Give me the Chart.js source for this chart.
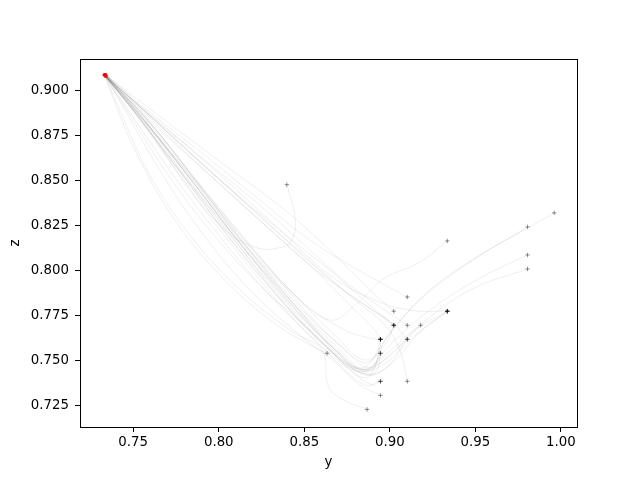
<!DOCTYPE html>
<html>
<head>
<meta charset="utf-8">
<script src="https://cdn.jsdelivr.net/npm/chart.js@4"></script>
<style>
  html, body { margin: 0; padding: 0; background: #fff; }
  #c { display: block; }
</style>
</head>
<body>
<canvas id="c" width="640" height="480"></canvas>
<script>
// axis ticks
const xTicks = [0.75, 0.80, 0.85, 0.90, 0.95, 1.00];
const yTicks = [0.725, 0.750, 0.775, 0.800, 0.825, 0.850, 0.875, 0.900];

// trajectories (y, z); first point = start, last point = end
const traj01 = [[0.7335,0.9085],[0.7539,0.8863],[0.7802,0.8529],[0.8094,0.8168],[0.8416,0.7779],[0.8679,0.7529],[0.8854,0.7402],[0.8930,0.7502],[0.8945,0.7617]];
const traj02 = [[0.7341,0.9091],[0.7568,0.8835],[0.7861,0.8474],[0.8182,0.8113],[0.8474,0.7835],[0.8737,0.7668],[0.8883,0.7624],[0.8945,0.7617]];
const traj03 = [[0.7329,0.9085],[0.7481,0.8863],[0.7685,0.8557],[0.7948,0.8224],[0.8240,0.7918],[0.8533,0.7668],[0.8766,0.7474],[0.8895,0.7446],[0.8945,0.7617]];
const traj04 = [[0.7347,0.9079],[0.7627,0.8807],[0.7948,0.8529],[0.8270,0.8252],[0.8562,0.8002],[0.8796,0.7779],[0.8912,0.7668],[0.8945,0.7617]];
const traj05 = [[0.7335,0.9091],[0.7598,0.8846],[0.7919,0.8557],[0.8240,0.8279],[0.8533,0.8029],[0.8766,0.7863],[0.8942,0.7752],[0.9023,0.7695]];
const traj06 = [[0.7341,0.9079],[0.7539,0.8863],[0.7831,0.8529],[0.8124,0.8196],[0.8416,0.7891],[0.8679,0.7640],[0.8854,0.7502],[0.8971,0.7585],[0.9023,0.7695]];
const traj07 = [[0.7329,0.9091],[0.7656,0.8807],[0.8007,0.8502],[0.8357,0.8224],[0.8649,0.8002],[0.8883,0.7807],[0.9023,0.7695]];
const traj08 = [[0.7335,0.9085],[0.7527,0.8863],[0.7773,0.8557],[0.8065,0.8196],[0.8357,0.7863],[0.8620,0.7585],[0.8796,0.7446],[0.8942,0.7435],[0.9117,0.7613],[0.9336,0.7773]];
const traj09 = [[0.7341,0.9085],[0.7568,0.8846],[0.7861,0.8502],[0.8153,0.8141],[0.8445,0.7807],[0.8679,0.7557],[0.8854,0.7418],[0.9000,0.7474],[0.9175,0.7657],[0.9336,0.7773]];
const traj10 = [[0.7335,0.9079],[0.7510,0.8879],[0.7744,0.8585],[0.8036,0.8252],[0.8328,0.7918],[0.8591,0.7640],[0.8796,0.7457],[0.8971,0.7502],[0.9146,0.7668],[0.9336,0.7773]];
const traj11 = [[0.7335,0.9085],[0.7539,0.8846],[0.7802,0.8513],[0.8094,0.8141],[0.8387,0.7807],[0.8649,0.7557],[0.8825,0.7435],[0.8918,0.7435],[0.8945,0.7539]];
const traj12 = [[0.7329,0.9091],[0.7598,0.8824],[0.7890,0.8474],[0.8211,0.8113],[0.8503,0.7779],[0.8737,0.7557],[0.8883,0.7457],[0.8945,0.7539]];
const traj13 = [[0.7335,0.9085],[0.7492,0.8863],[0.7714,0.8557],[0.7977,0.8224],[0.8270,0.7891],[0.8562,0.7613],[0.8766,0.7446],[0.8895,0.7363],[0.8945,0.7383]];
const traj14 = [[0.7341,0.9079],[0.7568,0.8807],[0.7831,0.8446],[0.8124,0.8085],[0.8416,0.7752],[0.8679,0.7502],[0.8854,0.7363],[0.8945,0.7383]];
const traj15 = [[0.7335,0.9091],[0.7469,0.8863],[0.7656,0.8557],[0.7890,0.8224],[0.8182,0.7891],[0.8474,0.7640],[0.8679,0.7490],[0.8825,0.7363],[0.8945,0.7305]];
const traj16 = [[0.7335,0.9085],[0.7434,0.8863],[0.7598,0.8529],[0.7831,0.8196],[0.8124,0.7891],[0.8416,0.7668],[0.8603,0.7557],[0.8638,0.7363],[0.8708,0.7291],[0.8867,0.7227]];
const traj17 = [[0.7335,0.9085],[0.7410,0.8891],[0.7539,0.8613],[0.7744,0.8279],[0.8007,0.7974],[0.8299,0.7724],[0.8533,0.7585],[0.8633,0.7539]];
const traj18 = [[0.7335,0.9085],[0.7627,0.8835],[0.7948,0.8557],[0.8270,0.8279],[0.8562,0.8029],[0.8796,0.7835],[0.8971,0.7696],[0.9058,0.7557],[0.9102,0.7383]];
const traj19 = [[0.7335,0.9085],[0.7539,0.8857],[0.7820,0.8529],[0.8112,0.8168],[0.8416,0.7835],[0.8679,0.7585],[0.8854,0.7446],[0.9000,0.7502],[0.9102,0.7617]];
const traj20 = [[0.7341,0.9091],[0.7656,0.8807],[0.8007,0.8502],[0.8328,0.8224],[0.8620,0.7974],[0.8854,0.7807],[0.9029,0.7696],[0.9102,0.7617]];
const traj21 = [[0.7335,0.9085],[0.7598,0.8863],[0.7919,0.8613],[0.8240,0.8363],[0.8533,0.8113],[0.8766,0.7918],[0.8971,0.7779],[0.9102,0.7695]];
const traj22 = [[0.7329,0.9085],[0.7551,0.8846],[0.7843,0.8513],[0.8135,0.8157],[0.8427,0.7824],[0.8679,0.7568],[0.8854,0.7446],[0.9029,0.7557],[0.9180,0.7695]];
const traj23 = [[0.7335,0.9091],[0.7685,0.8835],[0.8036,0.8585],[0.8387,0.8335],[0.8649,0.8113],[0.8854,0.7918],[0.9023,0.7773]];
const traj24 = [[0.7341,0.9085],[0.7598,0.8879],[0.7919,0.8640],[0.8240,0.8391],[0.8533,0.8168],[0.8766,0.8029],[0.8942,0.7935],[0.9102,0.7852]];
const traj25 = [[0.7335,0.9085],[0.7568,0.8852],[0.7861,0.8513],[0.8153,0.8168],[0.8416,0.7891],[0.8649,0.7724],[0.8796,0.7807],[0.8971,0.7957],[0.9175,0.8046],[0.9336,0.8164]];
const traj26 = [[0.7335,0.9085],[0.7521,0.8863],[0.7773,0.8546],[0.8065,0.8179],[0.8357,0.7846],[0.8620,0.7585],[0.8825,0.7435],[0.8971,0.7529],[0.9175,0.7696],[0.9468,0.7891],[0.9805,0.8008]];
const traj27 = [[0.7341,0.9085],[0.7568,0.8835],[0.7861,0.8474],[0.8153,0.8113],[0.8445,0.7779],[0.8696,0.7546],[0.8854,0.7446],[0.9000,0.7585],[0.9234,0.7779],[0.9526,0.7957],[0.9805,0.8086]];
const traj28 = [[0.7335,0.9091],[0.7551,0.8846],[0.7831,0.8513],[0.8124,0.8151],[0.8416,0.7818],[0.8667,0.7568],[0.8836,0.7457],[0.8971,0.7613],[0.9175,0.7835],[0.9468,0.8046],[0.9805,0.8242]];
const traj29 = [[0.7329,0.9085],[0.7586,0.8835],[0.7878,0.8485],[0.8170,0.8129],[0.8462,0.7807],[0.8708,0.7585],[0.8871,0.7490],[0.9012,0.7668],[0.9234,0.7891],[0.9526,0.8085],[0.9805,0.8235],[0.9961,0.8320]];
const traj30 = [[0.7335,0.9085],[0.7539,0.8835],[0.7773,0.8529],[0.8007,0.8252],[0.8211,0.8129],[0.8387,0.8135],[0.8439,0.8196],[0.8445,0.8307],[0.8398,0.8477]];
const traj31 = [[0.7335,0.9079],[0.7627,0.8846],[0.7977,0.8557],[0.8328,0.8252],[0.8649,0.7974],[0.8912,0.7835],[0.9117,0.7779],[0.9336,0.7773]];

const trajectories = [traj01, traj02, traj03, traj04, traj05, traj06, traj07, traj08, traj09, traj10,
  traj11, traj12, traj13, traj14, traj15, traj16, traj17, traj18, traj19, traj20,
  traj21, traj22, traj23, traj24, traj25, traj26, traj27, traj28, traj29, traj30, traj31];

const FONT = { family: 'DejaVu Sans', size: 13.33 };

// black frame on all four sides, like matplotlib's spines
const frame = {
  id: 'frame',
  afterDraw(chart) {
    const a = chart.chartArea;
    const c = chart.ctx;
    c.save();
    c.strokeStyle = '#000';
    c.lineWidth = 1;
    c.strokeRect(Math.round(a.left) + 0.5, Math.round(a.top) + 0.5,
      Math.round(a.right - a.left), Math.round(a.bottom - a.top));
    c.restore();
  }
};

const datasets = [];
// markers first so they sit on top
datasets.push({
  data: trajectories.map(t => t[t.length - 1]),
  pointStyle: 'cross',
  pointRadius: 2.2,
  pointBorderWidth: 1,
  pointBorderColor: 'rgba(0,0,0,0.42)',
  showLine: false
});
datasets.push({
  data: trajectories.map(t => t[0]),
  pointStyle: 'circle',
  pointRadius: 1.2,
  pointBorderWidth: 0,
  pointBackgroundColor: 'rgba(255,0,0,0.5)',
  showLine: false
});
trajectories.forEach(t => {
  datasets.push({
    data: t,
    showLine: true,
    tension: 0.4,
    borderColor: 'rgba(0,0,0,0.085)',
    borderWidth: 0.8,
    pointRadius: 0
  });
});

new Chart(document.getElementById('c'), {
  type: 'scatter',
  data: { datasets: datasets },
  options: {
    responsive: false,
    animation: false,
    devicePixelRatio: 1,
    events: [],
    layout: { padding: { left: 0, right: 63, top: 59, bottom: 0 } },
    plugins: { legend: { display: false }, tooltip: { enabled: false } },
    scales: {
      x: {
        type: 'linear',
        min: 0.7189,
        max: 1.0094,
        afterBuildTicks: s => { s.ticks = xTicks.map(v => ({ value: v })); },
        afterFit: s => { s.height = 53; },
        ticks: {
          color: '#000',
          font: FONT,
          padding: 3,
          maxRotation: 0,
          callback: v => v.toFixed(2)
        },
        grid: { drawOnChartArea: false, drawTicks: true, tickLength: 5, color: '#000', lineWidth: 1 },
        border: { display: false },
        title: { display: true, text: 'y', color: '#000', font: FONT, padding: { top: 0, bottom: 9 } }
      },
      y: {
        type: 'linear',
        min: 0.7129,
        max: 0.9176,
        afterBuildTicks: s => { s.ticks = yTicks.map(v => ({ value: v })); },
        afterFit: s => { s.width = 80; },
        ticks: {
          color: '#000',
          font: FONT,
          padding: 6,
          callback: v => v.toFixed(3)
        },
        grid: { drawOnChartArea: false, drawTicks: true, tickLength: 5, color: '#000', lineWidth: 1 },
        border: { display: false },
        title: { display: true, text: 'z', color: '#000', font: FONT, padding: { top: 8, bottom: 0 } }
      }
    }
  },
  plugins: [frame]
});
</script>
</body>
</html>
